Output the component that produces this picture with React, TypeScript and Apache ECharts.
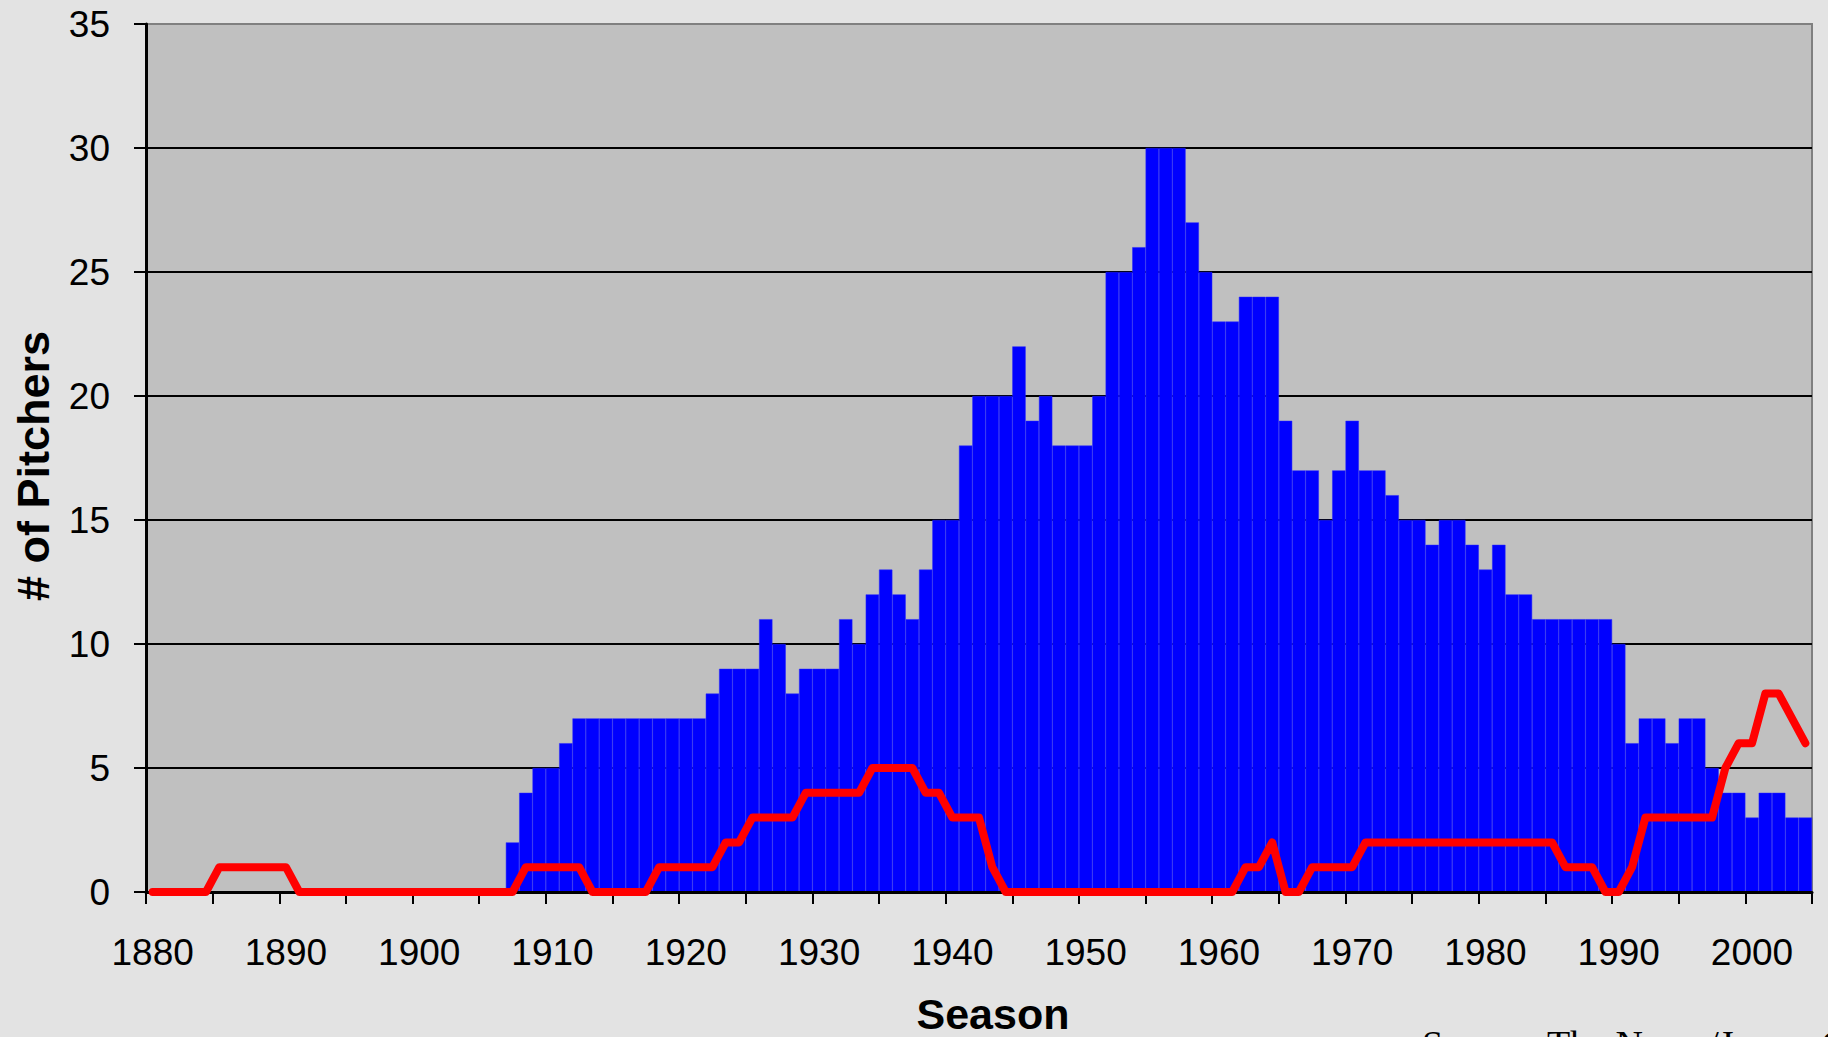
import React, { useEffect, useRef } from "react";
import * as echarts from "echarts";

// Seasons (category axis)
const seasons = [
  "1880", "1881", "1882", "1883", "1884", "1885", "1886", "1887", "1888", "1889",
  "1890", "1891", "1892", "1893", "1894", "1895", "1896", "1897", "1898", "1899",
  "1900", "1901", "1902", "1903", "1904", "1905", "1906", "1907", "1908", "1909",
  "1910", "1911", "1912", "1913", "1914", "1915", "1916", "1917", "1918", "1919",
  "1920", "1921", "1922", "1923", "1924", "1925", "1926", "1927", "1928", "1929",
  "1930", "1931", "1932", "1933", "1934", "1935", "1936", "1937", "1938", "1939",
  "1940", "1941", "1942", "1943", "1944", "1945", "1946", "1947", "1948", "1949",
  "1950", "1951", "1952", "1953", "1954", "1955", "1956", "1957", "1958", "1959",
  "1960", "1961", "1962", "1963", "1964", "1965", "1966", "1967", "1968", "1969",
  "1970", "1971", "1972", "1973", "1974", "1975", "1976", "1977", "1978", "1979",
  "1980", "1981", "1982", "1983", "1984", "1985", "1986", "1987", "1988", "1989",
  "1990", "1991", "1992", "1993", "1994", "1995", "1996", "1997", "1998", "1999",
  "2000", "2001", "2002", "2003", "2004",
];

// Blue bars: # of pitchers per season
const bluePitchers = [
  0, 0, 0, 0, 0, 0, 0, 0, 0, 0,
  0, 0, 0, 0, 0, 0, 0, 0, 0, 0,
  0, 0, 0, 0, 0, 0, 0, 2, 4, 5,
  5, 6, 7, 7, 7, 7, 7, 7, 7, 7,
  7, 7, 8, 9, 9, 9, 11, 10, 8, 9,
  9, 9, 11, 10, 12, 13, 12, 11, 13, 15,
  15, 18, 20, 20, 20, 22, 19, 20, 18, 18,
  18, 20, 25, 25, 26, 30, 30, 30, 27, 25,
  23, 23, 24, 24, 24, 19, 17, 17, 15, 17,
  19, 17, 17, 16, 15, 15, 14, 15, 15, 14,
  13, 14, 12, 12, 11, 11, 11, 11, 11, 11,
  10, 6, 7, 7, 6, 7, 7, 5, 4, 4,
  3, 4, 4, 3, 3,
];

// Red line: second count per season
const redPitchers = [
  0, 0, 0, 0, 0, 1, 1, 1, 1, 1,
  1, 0, 0, 0, 0, 0, 0, 0, 0, 0,
  0, 0, 0, 0, 0, 0, 0, 0, 1, 1,
  1, 1, 1, 0, 0, 0, 0, 0, 1, 1,
  1, 1, 1, 2, 2, 3, 3, 3, 3, 4,
  4, 4, 4, 4, 5, 5, 5, 5, 4, 4,
  3, 3, 3, 1, 0, 0, 0, 0, 0, 0,
  0, 0, 0, 0, 0, 0, 0, 0, 0, 0,
  0, 0, 1, 1, 2, 0, 0, 1, 1, 1,
  1, 2, 2, 2, 2, 2, 2, 2, 2, 2,
  2, 2, 2, 2, 2, 2, 1, 1, 1, 0,
  0, 1, 3, 3, 3, 3, 3, 3, 5, 6,
  6, 8, 8, 7, 6,
];

const yMin = 0;
const yMax = 35;
const yStep = 5;

const SANS = "'Liberation Sans', Arial, Helvetica, sans-serif";
const SERIF = "'Liberation Serif', 'Times New Roman', serif";

export default function App() {
  const ref = useRef<HTMLDivElement>(null);

  useEffect(() => {
    if (!ref.current) return;
    const chart = echarts.init(ref.current, null, { renderer: "svg" });
    chart.setOption({
      animation: false,
      backgroundColor: "#e3e3e3",
      textStyle: { fontFamily: SANS },
      grid: {
        left: 146,
        right: 16,
        top: 24,
        bottom: 145,
        show: true,
        backgroundColor: "#c0c0c0",
        borderColor: "#808080",
        borderWidth: 2,
      },
      xAxis: {
        type: "category",
        data: seasons,
        boundaryGap: true,
        z: 3,
        axisLine: { lineStyle: { color: "#000000", width: 3 } },
        axisTick: {
          show: true,
          interval: 4,
          length: 12,
          lineStyle: { color: "#000000", width: 2 },
        },
        axisLabel: {
          interval: 9,
          fontSize: 37,
          color: "#000000",
          fontFamily: SANS,
          margin: 42,
        },
        splitLine: { show: false },
      },
      yAxis: {
        type: "value",
        min: yMin,
        max: yMax,
        interval: yStep,
        axisLine: { show: true, lineStyle: { color: "#000000", width: 3 } },
        axisTick: {
          show: true,
          length: 12,
          lineStyle: { color: "#000000", width: 2 },
        },
        axisLabel: {
          fontSize: 37,
          color: "#000000",
          fontFamily: SANS,
          margin: 36,
        },
        splitLine: {
          show: true,
          showMaxLine: false,
          lineStyle: { color: "#000000", width: 2 },
        },
      },
      series: [
        {
          name: "Pitchers",
          type: "bar",
          data: bluePitchers,
          barCategoryGap: "0%",
          z: 2,
          itemStyle: {
            color: "#0000ff",
            borderColor: "#2424ff",
            borderWidth: 0.5,
          },
        },
        {
          name: "Red",
          type: "line",
          data: redPitchers,
          symbol: "none",
          z: 4,
          lineStyle: {
            color: "#ff0000",
            width: 8,
            join: "round",
            cap: "round",
          },
        },
      ],
      graphic: [
        {
          type: "text",
          x: 33,
          y: 466,
          rotation: Math.PI / 2,
          style: {
            text: "# of Pitchers",
            fill: "#000000",
            font: `bold 45px ${SANS}`,
            align: "center",
            verticalAlign: "middle",
          },
        },
        {
          type: "text",
          x: 993,
          y: 1014,
          style: {
            text: "Season",
            fill: "#000000",
            font: `bold 43px ${SANS}`,
            align: "center",
            verticalAlign: "middle",
          },
        },
        {
          type: "text",
          x: 1422,
          y: 1025,
          style: {
            text: "Source: The Neyer/James Guide to Pitchers",
            fill: "#000000",
            font: `38px ${SERIF}`,
            align: "left",
            verticalAlign: "top",
          },
        },
      ],
    });
    return () => chart.dispose();
  }, []);

  return (
    <div
      ref={ref}
      style={{
        position: "absolute",
        left: 0,
        top: 0,
        width: 1828,
        height: 1037,
        overflow: "hidden",
      }}
    />
  );
}
